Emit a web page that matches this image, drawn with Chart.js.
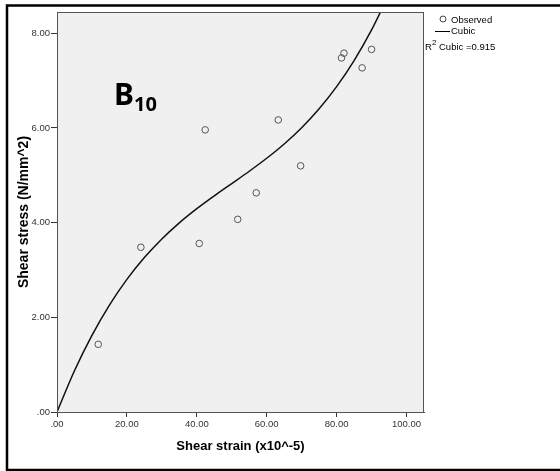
<!DOCTYPE html>
<html>
<head>
<meta charset="utf-8">
<script src="https://cdn.jsdelivr.net/npm/chart.js@4"></script>
<style>
  body { margin: 0; background: #fff; }
  #wrap { width: 560px; height: 471px; position: relative; }
</style>
</head>
<body>
<div id="wrap"><canvas id="chart" width="560" height="471"></canvas></div>
<script>
// observed points (shear strain x10^-5, shear stress N/mm^2)
const strainObs = [11.8, 24.0, 40.7, 42.4, 51.7, 57.0, 63.3, 69.7, 81.4, 82.1, 87.3, 90.0];
const stressObs = [1.43, 3.48, 3.56, 5.96, 4.07, 4.63, 6.17, 5.20, 7.48, 7.58, 7.27, 7.66];

// cubic fit line
const strainFit = [0, 5, 10, 15, 20, 25, 30, 35, 40, 45, 50, 55, 60, 65, 70, 75, 80, 85, 90, 95];
const stressFit = [0.0, 0.871, 1.618, 2.257, 2.801, 3.262, 3.656, 3.996, 4.295, 4.567, 4.826, 5.086, 5.360, 5.662, 6.006, 6.405, 6.873, 7.424, 8.071, 8.829];

const xTicks = [0, 20, 40, 60, 80, 100];
const yTicks = [0, 2, 4, 6, 8];
const rSquared = '0.915';

const fmt = v => v.toFixed(2).replace(/^0\./, '.');

const frame = {
    id: 'frame',
    beforeDraw(chart) {
        const { ctx, chartArea: a } = chart;
        ctx.save();
        ctx.fillStyle = '#f0f0f0';
        ctx.fillRect(a.left, a.top, a.right - a.left, a.bottom - a.top);
        ctx.restore();
    },
    afterDraw(chart) {
        const { ctx, chartArea: a } = chart;
        ctx.save();
        // plot frame
        ctx.strokeStyle = '#555';
        ctx.lineWidth = 1;
        ctx.strokeRect(a.left + 0.5, a.top + 0.5, a.right - a.left - 1, a.bottom - a.top);
        // outer border
        ctx.strokeStyle = '#000';
        ctx.lineWidth = 2.5;
        ctx.beginPath();
        ctx.moveTo(565, 5.5);
        ctx.lineTo(7, 5.5);
        ctx.lineTo(7, 470);
        ctx.lineTo(565, 470);
        ctx.stroke();

        // B10 label
        ctx.fillStyle = '#000';
        ctx.textBaseline = 'alphabetic';
        ctx.font = 'bold 30px "Noto Sans"';
        ctx.fillText('B', 114, 105);
        ctx.font = 'bold 20px "Noto Sans"';
        ctx.fillText('10', 134, 111);

        // legend
        ctx.font = '9.5px "Liberation Sans"';
        ctx.textBaseline = 'middle';
        ctx.strokeStyle = '#444';
        ctx.lineWidth = 1;
        ctx.beginPath();
        ctx.arc(443, 19, 3, 0, Math.PI * 2);
        ctx.stroke();
        ctx.fillText('Observed', 451, 20);
        ctx.strokeStyle = '#000';
        ctx.beginPath();
        ctx.moveTo(435, 31.5);
        ctx.lineTo(450, 31.5);
        ctx.stroke();
        ctx.fillText('Cubic', 451, 31.5);
        ctx.fillText('R', 425, 47);
        ctx.font = '8px "Liberation Sans"';
        ctx.fillText('2', 432, 43);
        ctx.font = '9.5px "Liberation Sans"';
        ctx.fillText('Cubic =' + rSquared, 439, 47);
        ctx.restore();
    }
};

new Chart(document.getElementById('chart'), {
    type: 'scatter',
    data: {
        datasets: [
            {
                label: 'Observed',
                data: strainObs.map((x, i) => ({ x, y: stressObs[i] })),
                pointStyle: 'circle',
                pointRadius: 3.3,
                pointBorderWidth: 1,
                pointBorderColor: '#555',
                pointBackgroundColor: 'rgba(0,0,0,0)'
            },
            {
                label: 'Cubic',
                data: strainFit.map((x, i) => ({ x, y: stressFit[i] })),
                showLine: true,
                pointRadius: 0,
                borderColor: '#111',
                borderWidth: 1.5,
                cubicInterpolationMode: 'monotone'
            }
        ]
    },
    options: {
        responsive: false,
        animation: false,
        layout: { padding: { left: 0, top: 12, right: 136, bottom: 0 } },
        plugins: { legend: { display: false }, tooltip: { enabled: false } },
        scales: {
            x: {
                type: 'linear',
                min: 0,
                max: 105,
                afterFit: s => { s.height = 59; },
                afterBuildTicks: s => { s.ticks = xTicks.map(v => ({ value: v })); },
                ticks: {
                    callback: v => fmt(v),
                    color: '#333',
                    font: { family: 'Liberation Sans', size: 9.5 },
                    padding: 2,
                    maxRotation: 0
                },
                grid: { drawOnChartArea: false, color: '#333', tickLength: 5 },
                border: { color: '#555' },
                title: {
                    display: true,
                    text: 'Shear strain (x10^-5)',
                    color: '#000',
                    font: { family: 'Liberation Sans', size: 13, weight: 'bold' },
                    padding: { top: 0, bottom: 17 }
                }
            },
            y: {
                type: 'linear',
                min: 0,
                max: 8.45,
                afterFit: s => { s.width = 57; },
                afterBuildTicks: s => { s.ticks = yTicks.map(v => ({ value: v })); },
                ticks: {
                    callback: v => fmt(v),
                    color: '#333',
                    font: { family: 'Liberation Sans', size: 9.5 },
                    padding: 1
                },
                grid: { drawOnChartArea: false, color: '#333', tickLength: 6 },
                border: { color: '#555' },
                title: {
                    display: true,
                    text: 'Shear stress (N/mm^2)',
                    color: '#000',
                    font: { family: 'Liberation Sans', size: 14, weight: 'bold' },
                    padding: { top: 16, bottom: 0 }
                }
            }
        }
    },
    plugins: [frame]
});
</script>
</body>
</html>
